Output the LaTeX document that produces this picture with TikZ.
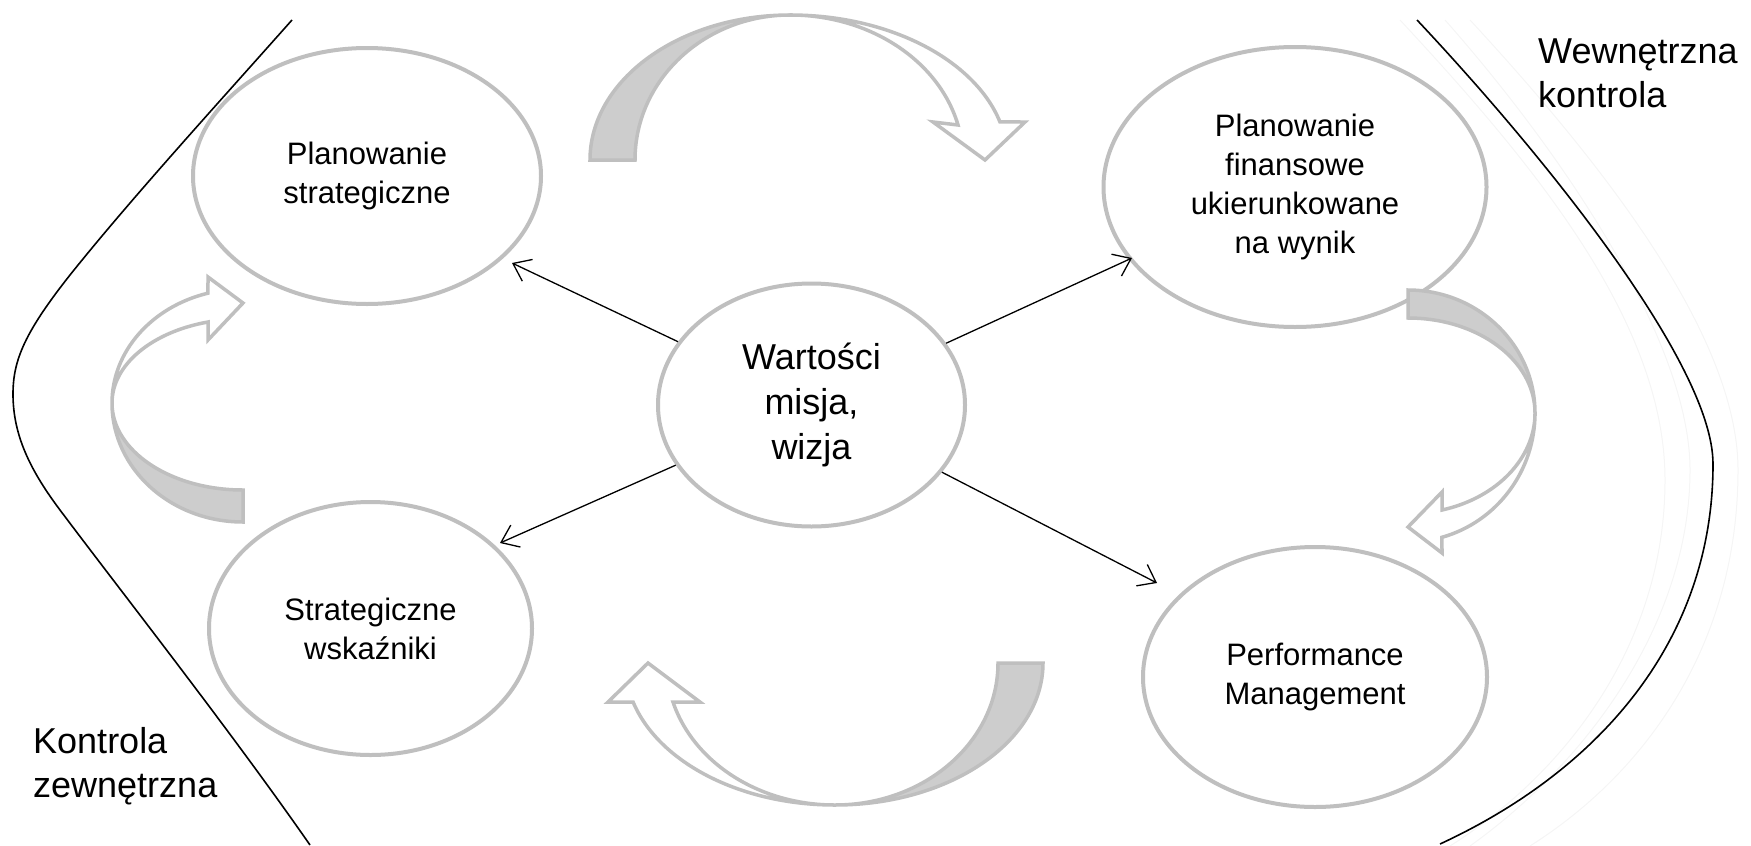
\documentclass[tikz,border=0pt]{standalone}
\usepackage{fontspec}
\setmainfont{Liberation Sans}
\usetikzlibrary{shapes.geometric,arrows.meta}

\definecolor{shapeline}{RGB}{191,191,191}
\definecolor{bandfill}{RGB}{205,205,205}

\begin{document}
\begin{tikzpicture}[x=1pt,y=-1pt,
  oval/.style={ellipse, draw=shapeline, line width=4pt, fill=white, inner sep=0pt, align=center},
  smalltext/.style={font=\fontsize{31}{39}\selectfont},
  centretext/.style={font=\fontsize{36}{45}\selectfont},
  sidetext/.style={font=\fontsize{36}{43.5}\selectfont, align=left, inner sep=0pt},
  link/.style={line width=1.3pt, -{Straight Barb[length=16pt,width=24pt]}},
  border/.style={line width=1.6pt, black},
  faint/.style={line width=1pt, black!4},
  bandback/.style={draw=shapeline, fill=bandfill, line width=3.5pt, line join=miter},
  bandfront/.style={draw=shapeline, fill=white, line width=3.5pt, line join=miter},
]
\useasboundingbox (0,0) rectangle (1751,846);

% faint guide lines on the right
\draw[faint] (1445,20) .. controls (1560,150) and (1690,340) .. (1690,470)
  .. controls (1690,620) and (1590,760) .. (1470,846);
\draw[faint] (1470,20) .. controls (1590,150) and (1738,330) .. (1738,470)
  .. controls (1738,640) and (1650,770) .. (1530,846);
\draw[faint] (1400,20) .. controls (1530,160) and (1665,320) .. (1665,480)
  .. controls (1665,640) and (1570,770) .. (1450,846);

% outer boundary curves
\draw[border] (292,20) .. controls (212,110) and (130,200) .. (70,275)
  .. controls (25,332) and (13,360) .. (13,394)
  .. controls (13,435) and (30,470) .. (60,510)
  .. controls (120,590) and (230,730) .. (310,845);
\draw[border] (1417,20) .. controls (1530,140) and (1713,360) .. (1713,464)
  .. controls (1713,640) and (1600,770) .. (1440,844);

% the five ovals
\node[oval, smalltext, minimum width=348pt, minimum height=256pt] (ps) at (367,176) {Planowanie\\strategiczne};
\node[oval, smalltext, minimum width=383pt, minimum height=280pt] (pf) at (1295,187) {Planowanie\\finansowe\\ukierunkowane\\na wynik};
\node[oval, centretext, minimum width=307pt, minimum height=243pt] (c) at (811.5,405) {Wartości\\misja,\\wizja};
\node[oval, smalltext, minimum width=323pt, minimum height=253pt] (sw) at (370.5,628.5) {Strategiczne\\wskaźniki};
\node[oval, smalltext, minimum width=344pt, minimum height=260pt] (pm) at (1315,677) {Performance\\Management};

% arrow tips near the outer ovals
\coordinate (tps) at (512,263);
\coordinate (tpf) at (1132,258);
\coordinate (tsw) at (500,543);
\coordinate (tpm) at (1157,583);
\draw[link] (c) -- (tps);
\draw[link] (c) -- (tpf);
\draw[link] (c) -- (tsw);
\draw[link] (c) -- (tpm);

% curved band arrows: shaded back part, then white front part with head
% top
\draw[bandback] (590,160) arc[start angle=180,end angle=270,x radius=200,y radius=145]
  arc[start angle=270,end angle=180,x radius=155,y radius=145] -- cycle;
\draw[bandfront] (790,15) arc[start angle=270,end angle=344.8,x radius=217.6,y radius=145]
  -- (1025,122) -- (985,160) -- (933,122) -- (958,125)
  arc[start angle=346.04,end angle=270,x radius=173,y radius=145] -- cycle;
% right
\draw[bandback] (1408,290) arc[start angle=270,end angle=360,x radius=127,y radius=123]
  arc[start angle=0,end angle=-90,x radius=127,y radius=95] -- cycle;
\draw[bandfront] (1535,413) arc[start angle=0,end angle=74.5,x radius=127,y radius=129]
  -- (1442,553) -- (1408,527) -- (1442,492) -- (1442,510)
  arc[start angle=74.5,end angle=0,x radius=127,y radius=101] -- cycle;
% bottom
\draw[bandback] (1043,663) arc[start angle=0,end angle=90,x radius=208,y radius=142]
  arc[start angle=90,end angle=0,x radius=163,y radius=142] -- cycle;
\draw[bandfront] (835,805) arc[start angle=90,end angle=164.06,x radius=210,y radius=142]
  -- (608,702) -- (648,663) -- (700,702) -- (673,702)
  arc[start angle=164.06,end angle=90,x radius=168,y radius=142] -- cycle;
% left
\draw[bandback] (243,522) arc[start angle=90,end angle=180,x radius=131,y radius=119]
  arc[start angle=180,end angle=90,x radius=131,y radius=87] -- cycle;
\draw[bandfront] (112,403) arc[start angle=180,end angle=254.5,x radius=131,y radius=114]
  -- (208,277) -- (243,303) -- (208,340) -- (208,322)
  arc[start angle=254.5,end angle=180,x radius=131,y radius=84] -- cycle;

% side labels (anchored on the baseline of their last line)
\node[sidetext, anchor=base west] (inner) at (1538,107) {Wewnętrzna\\kontrola};
\node[sidetext, anchor=base west] (outer) at (33,797) {Kontrola\\zewnętrzna};
\end{tikzpicture}
\end{document}
